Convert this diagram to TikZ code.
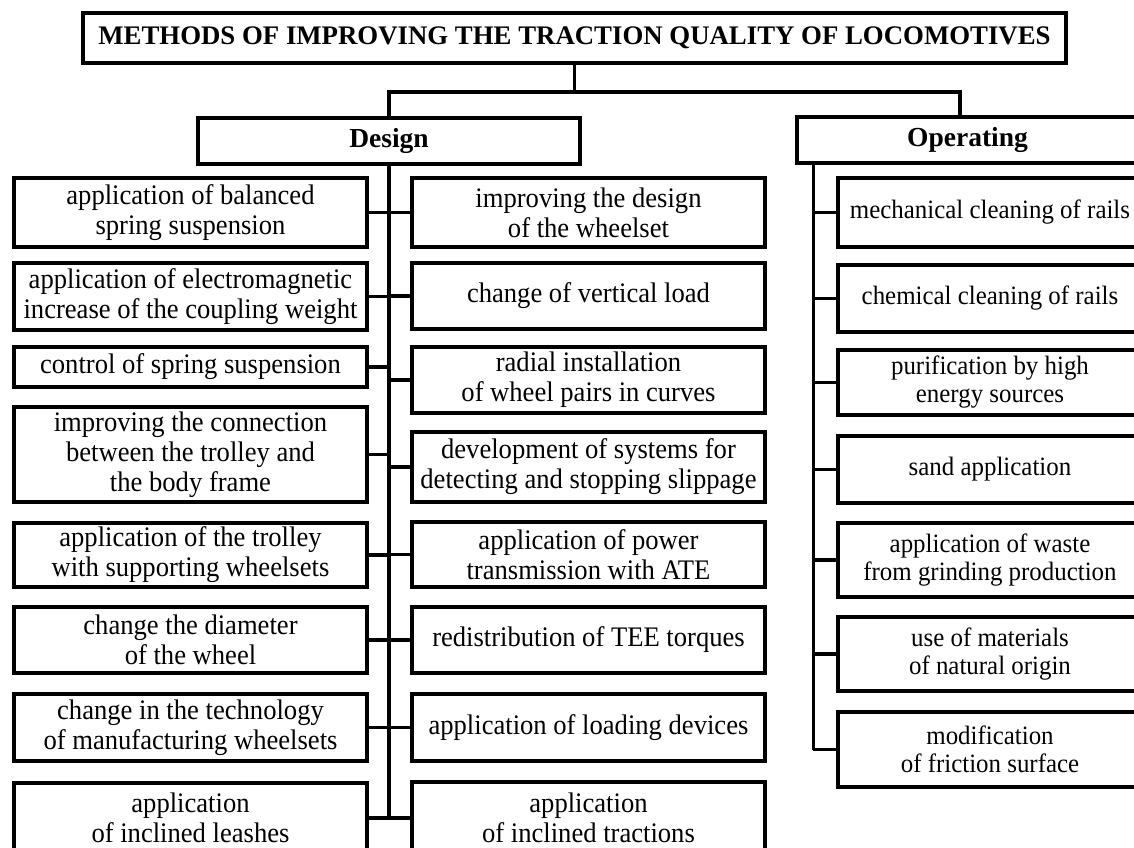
\documentclass[tikz,border=0pt]{standalone}
\usepackage{fontspec}
\setmainfont{Liberation Serif}
\newfontfamily\bodyfont[FakeStretch=0.94]{Liberation Serif}
\begin{document}
\begin{tikzpicture}[x=1pt,y=-1pt,line width=3.2pt,
  box/.style={draw, rectangle, inner sep=0pt, align=center, line width=3.2pt},
  sect/.style={box, font=\fontsize{27.5}{30}\selectfont\bfseries},
  lbox/.style={box, font=\bodyfont\fontsize{28.3}{30}\selectfont, minimum width=353},
  obox/.style={box, font=\bodyfont\fontsize{26.5}{28}\selectfont, minimum width=304},
  conn/.style={draw, line width=3.2pt}]
\useasboundingbox (0,0) rectangle (1134,847);
\clip (0,0) rectangle (1134,847);
\fill[white] (0,0) rectangle (1134,847);

% title and sections
\node[box, font=\fontsize{26.8}{30}\selectfont\bfseries, minimum width=983, minimum height=50] (title) at (574.5,38) {METHODS OF IMPROVING THE TRACTION QUALITY OF LOCOMOTIVES};
\node[sect, minimum width=382, minimum height=46] (design) at (389,141) {Design};
\node[sect, minimum width=341, minimum height=46] (oper) at (967.5,140) {Operating};

% design, left column
\node[lbox, minimum height=69] (L1) at (190.5,212.5) {application of balanced\\spring suspension};
\node[lbox, minimum height=67] (L2) at (190.5,296.5) {application of electromagnetic\\increase of the coupling weight};
\node[lbox, minimum height=40] (L3) at (190.5,367) {control of spring suspension};
\node[lbox, minimum height=95] (L4) at (190.5,454.5) {improving the connection\\between the trolley and\\the body frame};
\node[lbox, minimum height=64] (L5) at (190.5,555) {application of the trolley\\with supporting wheelsets};
\node[lbox, minimum height=66] (L6) at (190.5,640) {change the diameter\\of the wheel};
\node[lbox, minimum height=67] (L7) at (190.5,727.5) {change in the technology\\of manufacturing wheelsets};
\node[lbox, minimum height=70] (L8) at (190.5,818) {application\\of inclined leashes};

% design, right column
\node[lbox, minimum height=69] (R1) at (588.5,212.5) {improving the design\\of the wheelset};
\node[lbox, minimum height=66] (R2) at (588.5,296) {change of vertical load};
\node[lbox, minimum height=66] (R3) at (588.5,380) {radial installation\\of wheel pairs in curves};
\node[lbox, minimum height=70] (R4) at (588.5,467) {development of systems for\\detecting and stopping slippage};
\node[lbox, minimum height=65] (R5) at (588.5,554.5) {application of power\\transmission with ATE};
\node[lbox, minimum height=66] (R6) at (588.5,640) {redistribution of TEE torques};
\node[lbox, minimum height=67] (R7) at (588.5,727.5) {application of loading devices};
\node[lbox, minimum height=72] (R8) at (588.5,818) {application\\of inclined tractions};

% operating column
\node[obox, minimum height=69] (O1) at (990,212.5) {mechanical cleaning of rails};
\node[obox, minimum height=67] (O2) at (990,298.5) {chemical cleaning of rails};
\node[obox, minimum height=65] (O3) at (990,382.5) {purification by high\\energy sources};
\node[obox, minimum height=67] (O4) at (990,469.5) {sand application};
\node[obox, minimum height=74] (O5) at (990,560) {application of waste\\from grinding production};
\node[obox, minimum height=74] (O6) at (990,654) {use of materials\\of natural origin};
\node[obox, minimum height=75] (O7) at (990,749.5) {modification\\of friction surface};

% connectors
\coordinate (bar) at (574.5,92);
\draw[conn] (title.south) -- (bar);
\draw[conn] (design.north) |- (bar) -| ([xshift=-7.5pt]oper.north);
\draw[conn] (design.south) -- (design.south |- L8.east);
\foreach \i in {1,...,8} {
  \draw[conn] (L\i.east) -- (L\i.east -| design.south);
  \draw[conn] (R\i.west) -- (R\i.west -| design.south);
}
\coordinate (ot) at ([xshift=18pt]oper.south west);
\draw[conn] (ot) -- (ot |- O7.west);
\foreach \i in {1,...,7} {
  \draw[conn] (O\i.west) -- (O\i.west -| ot);
}
\end{tikzpicture}
\end{document}
